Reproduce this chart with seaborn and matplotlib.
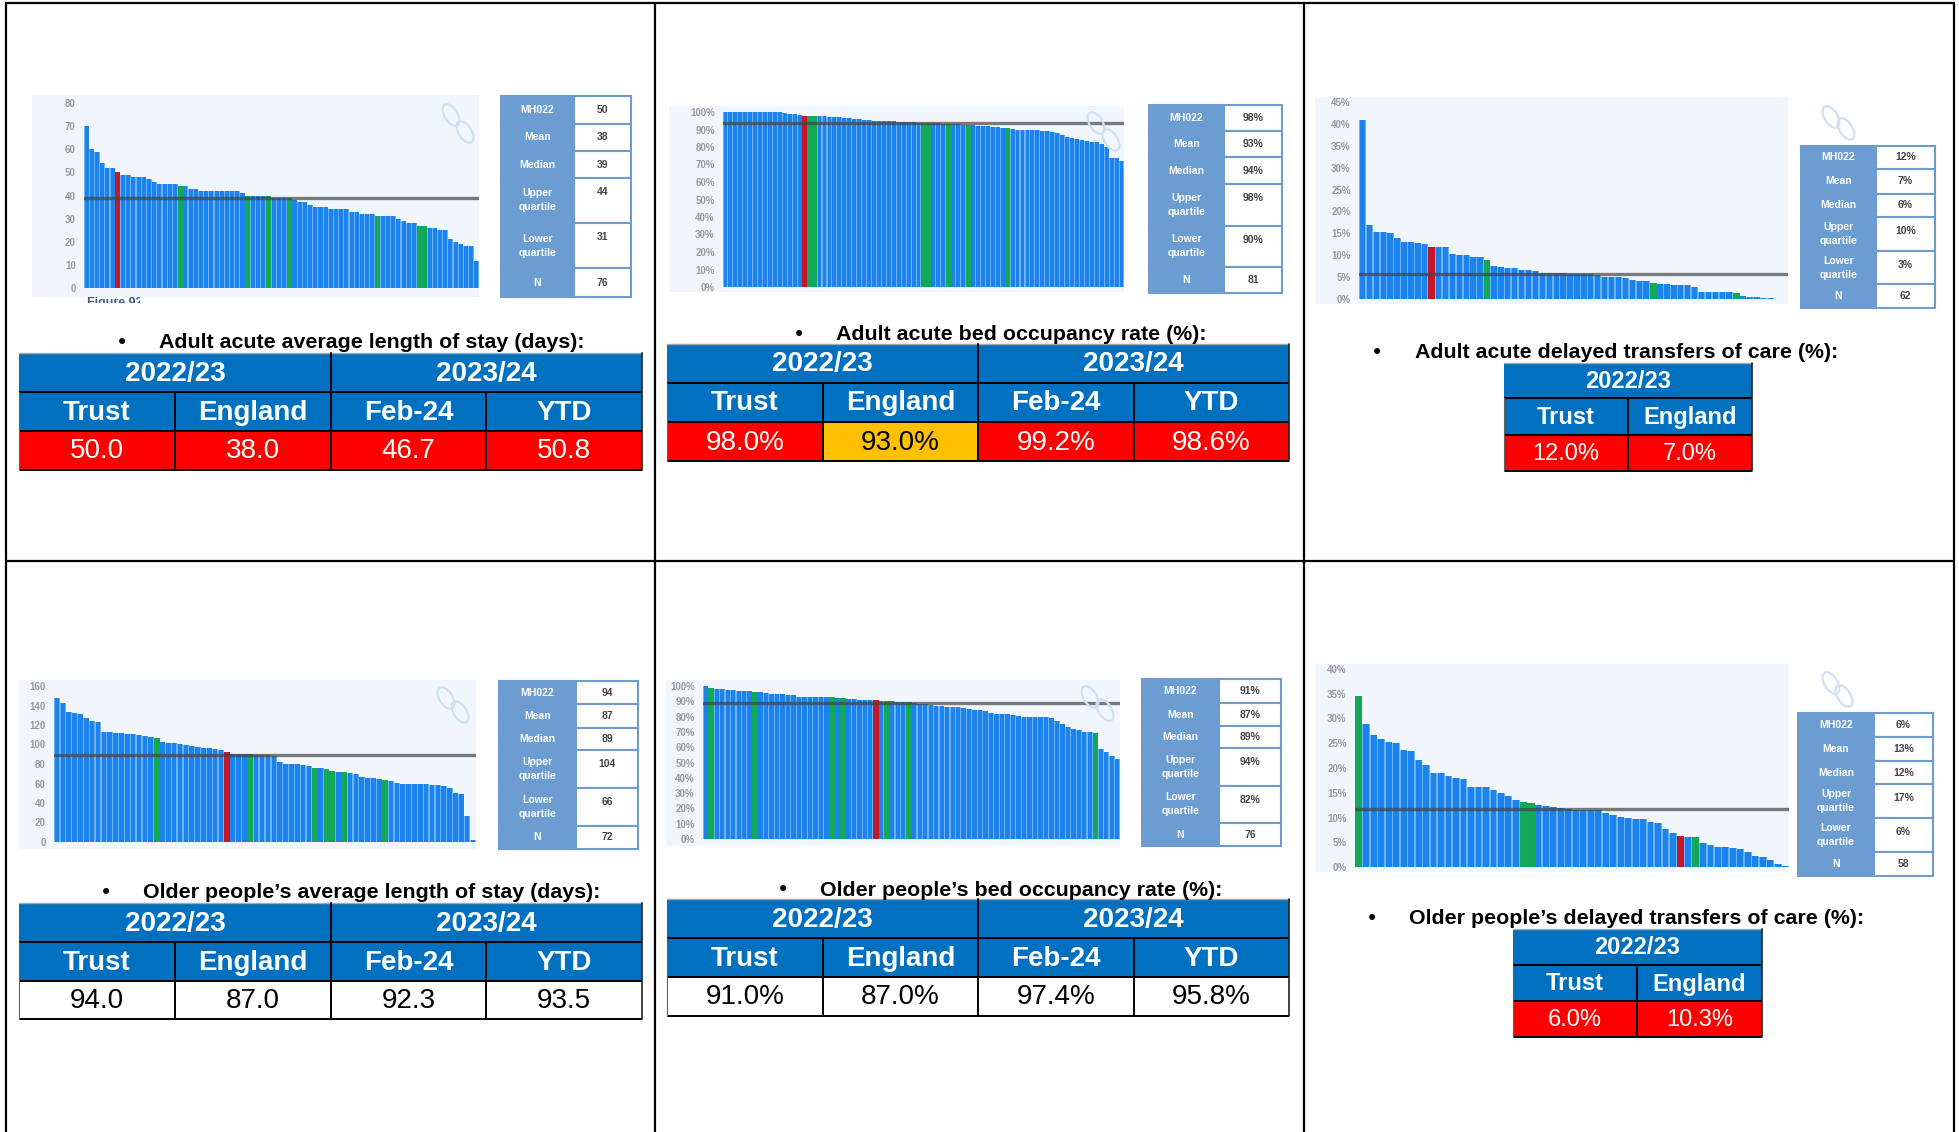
import matplotlib
matplotlib.use("Agg")
import matplotlib.pyplot as plt
from matplotlib.patches import Rectangle, Ellipse
import numpy as np
import pandas as pd
import seaborn as sns

W, H = 1959, 1132

# values
adult_los = [70, 60, 59, 54, 52, 52, 50, 49, 49, 48,
             48, 48, 47, 46, 45, 45, 45, 45, 44, 44,
             43, 43, 42, 42, 42, 42, 42, 42, 42, 42,
             41, 40, 40, 40, 40, 40, 39, 39, 39, 39,
             38, 37, 37, 36, 35, 35, 35, 34, 34, 34,
             34, 33, 33, 32, 32, 32, 31, 31, 31, 31,
             30, 29, 28, 28, 27, 27, 26, 26, 25, 25,
             21, 20, 19, 18, 18, 11.5]
adult_occ = [100, 100, 100, 100, 100, 100, 100, 100, 100, 100,
             100, 100, 99.5, 99, 99, 98.5, 98, 98, 98, 97.5,
             97.5, 97, 97, 97, 96.5, 96.5, 96, 96, 95.5, 95.5,
             95, 95, 95, 95, 95, 94.5, 94.5, 94.5, 94.5, 94,
             94, 94, 93.5, 93.5, 93, 93, 93, 93, 92.5, 92.5,
             92.5, 92, 92, 92, 91.5, 91.5, 91, 91, 90.5, 90,
             90, 90, 89.5, 89.5, 89, 89, 88.5, 88, 87, 86,
             85, 84.5, 84, 83.5, 83, 83, 82, 80, 74, 74,
             72]
adult_dtoc = [41, 17, 15.2, 15.2, 15, 14, 13, 13, 12.8, 12.5,
              11.8, 11.8, 11.8, 10.3, 10.1, 10, 9.7, 9.6, 9, 7.6,
              7.3, 7, 7, 6.7, 6.6, 6.5, 6, 6, 5.9, 5.9,
              5.8, 5.8, 5.8, 5.6, 5.4, 5, 5, 5, 4.8, 4.3,
              4.2, 4, 3.7, 3.4, 3.4, 3.3, 3.2, 3.2, 2.7, 1.7,
              1.6, 1.6, 1.5, 1.5, 1.4, 0.7, 0.5, 0.4, 0.3, 0.2,
              0.1, 0.1]
older_los = [148, 143, 133, 132, 131, 127, 124, 123, 113, 113,
             112, 112, 111, 111, 110, 109, 108, 107, 103, 102,
             102, 101, 99, 98, 97, 96, 96, 95, 94, 92,
             90, 90, 90, 90, 89, 89, 89, 88, 82, 80,
             80, 80, 79, 78, 76, 76, 75, 73, 72, 72,
             71, 70, 67, 66, 66, 65, 64, 63, 61, 60,
             60, 59, 59, 59, 58, 58, 57, 55, 50, 49,
             27, 2]
older_occ = [100, 99, 98, 98, 97.5, 97.5, 97, 97, 96.5, 96,
             96, 95.5, 95, 95, 94.5, 94, 94, 93, 93, 93,
             93, 93, 92.5, 92.5, 92, 92, 91.5, 91.5, 91, 91,
             91, 91, 90, 90, 90, 89.5, 89.5, 89.5, 89, 88,
             88, 87.5, 87, 87, 86, 86, 86, 85.5, 85, 84,
             84, 83.5, 82.5, 82, 82, 81.5, 81, 80.5, 80, 80,
             80, 80, 79.5, 79, 77, 75, 73.5, 72, 71, 70,
             70, 69, 59, 57, 54, 52]
older_dtoc = [34.5, 28.8, 26.7, 25.8, 25.2, 25, 23.7, 23.4, 21.6, 20.6,
              19, 19, 18.4, 18, 17.8, 16.2, 16.2, 16.2, 15.5, 15,
              14.4, 13.5, 13.2, 13, 12.6, 12.4, 12.2, 12, 11.7, 11.6,
              11.6, 11.5, 11.5, 11, 10.6, 10.2, 9.8, 9.6, 9.6, 9,
              8.8, 7.7, 6.8, 6.2, 6, 6, 4.9, 4.5, 4, 4,
              3.9, 3.6, 3, 2.3, 2, 1.4, 0.7, 0.3]

# highlighted organisations in each chart
adult_los_trust, adult_los_peers = [6], [18, 31, 35, 39, 56, 64, 65]
adult_occ_trust, adult_occ_peers = [16], [17, 18, 40, 41, 45, 49, 57]
adult_dtoc_trust, adult_dtoc_peers = [10], [18, 42, 54]
older_los_trust, older_los_peers = [29], [17, 33, 44, 46, 47, 49, 56]
older_occ_trust, older_occ_peers = [31], [1, 9, 23, 25, 33, 37, 71]
older_dtoc_trust, older_dtoc_peers = [43], [0, 22, 23, 45]

stat_labels = ["MH022", "Mean", "Median", "Upper\nquartile", "Lower\nquartile", "N"]
adult_los_stats = ["50", "38", "39", "44", "31", "76"]
adult_occ_stats = ["98%", "93%", "94%", "98%", "90%", "81"]
adult_dtoc_stats = ["12%", "7%", "6%", "10%", "3%", "62"]
older_los_stats = ["94", "87", "89", "104", "66", "72"]
older_occ_stats = ["91%", "87%", "89%", "94%", "82%", "76"]
older_dtoc_stats = ["6%", "13%", "12%", "17%", "6%", "58"]

medians = [39, 94, 5.8, 89, 89, 11.7]

headings = ["Adult acute average length of stay (days):",
            "Adult acute bed occupancy rate (%):",
            "Adult acute delayed transfers of care (%):",
            "Older people\u2019s average length of stay (days):",
            "Older people\u2019s bed occupancy rate (%):",
            "Older people\u2019s delayed transfers of care (%):"]

years_long = ["2022/23", "2023/24"]
years_short = ["2022/23"]
cols_long = ["Trust", "England", "Feb-24", "YTD"]
cols_short = ["Trust", "England"]
adult_los_vals = ["50.0", "38.0", "46.7", "50.8"]
adult_occ_vals = ["98.0%", "93.0%", "99.2%", "98.6%"]
adult_dtoc_vals = ["12.0%", "7.0%"]
older_los_vals = ["94.0", "87.0", "92.3", "93.5"]
older_occ_vals = ["91.0%", "87.0%", "97.4%", "95.8%"]
older_dtoc_vals = ["6.0%", "10.3%"]
adult_los_rag = ["red", "red", "red", "red"]
adult_occ_rag = ["red", "amber", "red", "red"]
adult_dtoc_rag = ["red", "red"]
older_los_rag = ["none", "none", "none", "none"]
older_occ_rag = ["none", "none", "none", "none"]
older_dtoc_rag = ["red", "red"]

BAR_BLUE = "#1c82ee"
BAR_GAP = "#6cb4f8"
BAR_GREEN = "#12a85a"
BAR_RED = "#c4182a"
BG_BLUE = "#f1f6fd"
STAT_BLUE = "#6c9dd2"
HEAD_BLUE = "#0070c0"
RAG = {"red": ("#ff0000", "white"), "amber": ("#ffc000", "black"), "none": ("white", "black")}

sns.set_theme(style="white")
plt.rcParams["font.family"] = ["Liberation Sans", "DejaVu Sans"]

fig = plt.figure(figsize=(W / 100, H / 100), dpi=100, facecolor="white")


def px_axes(x0, y0, x1, y1, zorder):
    """Axes placed by pixel box, y measured from the top of the figure."""
    return fig.add_axes([x0 / W, 1 - y1 / H, (x1 - x0) / W, (y1 - y0) / H], zorder=zorder)


back = px_axes(0, 0, W, H, 0)
over = px_axes(0, 0, W, H, 5)
for a in (back, over):
    a.set_xlim(0, W)
    a.set_ylim(H, 0)
    a.axis("off")
    a.patch.set_alpha(0)


def draw_bars(box, values, trust, peers, median, ymax, step, fmt):
    ax = px_axes(*box, 2)
    ax.patch.set_alpha(0)
    df = pd.DataFrame({"org": range(len(values)), "value": values, "kind": "peer"})
    df.loc[df["org"].isin(peers), "kind"] = "mh_peer"
    df.loc[df["org"].isin(trust), "kind"] = "trust"
    # the soft gaps between the bars of the scanned chart
    sns.barplot(data=df, x="org", y="value", hue="kind", dodge=False, width=1.0, legend=False, ax=ax,
                saturation=1, linewidth=0,
                palette={"peer": BAR_GAP, "mh_peer": BAR_GREEN, "trust": BAR_RED})
    sns.barplot(data=df, x="org", y="value", hue="kind", dodge=False, width=0.78, legend=False, ax=ax,
                saturation=1, linewidth=0,
                palette={"peer": BAR_BLUE, "mh_peer": BAR_GREEN, "trust": BAR_RED})
    ax.axhline(median, color="#444444", lw=2.4, alpha=0.7, zorder=4)
    ax.set_xlim(-0.5, len(values) - 0.5)
    ax.set_ylim(0, ymax)
    ax.set_yticks(np.arange(0, ymax + 1, step))
    ax.set_yticklabels([fmt.format(t) for t in np.arange(0, ymax + 1, step)], color="#9a9a9a",
                       fontsize=7, fontweight="bold")
    ax.tick_params(axis="y", length=0, pad=6)
    ax.set_xticks([])
    ax.set_xlabel("")
    ax.set_ylabel("")
    sns.despine(ax=ax, left=True, bottom=True)


def draw_stats(xs, ys, values):
    for i, (label, val) in enumerate(zip(stat_labels, values)):
        y0, y1 = ys[i], ys[i + 1]
        back.add_patch(Rectangle((xs[0], y0), xs[1] - xs[0], y1 - y0, fc=STAT_BLUE, ec="#6f9bcf", lw=1.5))
        back.add_patch(Rectangle((xs[1], y0), xs[2] - xs[1], y1 - y0, fc="white", ec="#6f9bcf", lw=1.5))
        back.text((xs[0] + xs[1]) / 2, (y0 + y1) / 2, label, color="white", fontsize=7.5, fontweight="bold",
                  ha="center", va="center", linespacing=1.5)
        # wrapped rows keep their number on the first line
        yv = (y0 + y1) / 2 if "\n" not in label else y0 + 14
        back.text((xs[1] + xs[2]) / 2, yv, val, color="#444444", fontsize=7.5, fontweight="bold",
                  ha="center", va="center")


def draw_table(xs, ys, years, cols, vals, rag, fs):
    left, right = xs[0], xs[-1]
    over.add_patch(Rectangle((left, ys[0]), right - left, ys[2] - ys[0], fc=HEAD_BLUE, ec="none"))
    n_span = (len(xs) - 1) // len(years)
    for i, yr in enumerate(years):
        xa, xb = xs[i * n_span], xs[(i + 1) * n_span]
        over.text((xa + xb) / 2, (ys[0] + ys[1]) / 2 + 1, yr, color="white", fontsize=fs, fontweight="bold",
                  ha="center", va="center")
    for i, (c, v, r) in enumerate(zip(cols, vals, rag)):
        xa, xb = xs[i], xs[i + 1]
        fill, ink = RAG[r]
        over.add_patch(Rectangle((xa, ys[2]), xb - xa, ys[3] - ys[2], fc=fill, ec="none"))
        over.text((xa + xb) / 2, (ys[1] + ys[2]) / 2 + 1, c, color="white", fontsize=fs, fontweight="bold",
                  ha="center", va="center")
        over.text((xa + xb) / 2, (ys[2] + ys[3]) / 2 + 1, v, color=ink, fontsize=fs, ha="center", va="center")
    # rules
    for y in ys[1:]:
        over.plot([left, right], [y, y], color="black", lw=1.4, solid_capstyle="butt")
    over.plot([left, right], [ys[0], ys[0]], color="#a8a8a8", lw=1)
    for x in xs[1:-1]:
        over.plot([x, x], [ys[1], ys[3]], color="black", lw=1.4)
    for x in xs[n_span:-1:n_span]:
        over.plot([x, x], [ys[0], ys[1]], color="black", lw=1.4)
    over.plot([left, left], [ys[1], ys[3]], color="#606060", lw=0.8)
    over.plot([right, right], [ys[0], ys[3]], color="#202020", lw=1.2)


def draw_chain(p, q):
    for c in (p, q):
        over.add_patch(Ellipse(c, 13, 24, angle=-32, fc="none", ec="#cfe0f5", lw=1.6))


# bar charts: box is left, top, right, baseline in pixels
draw_bars((84, 103, 479, 288), adult_los, adult_los_trust, adult_los_peers, medians[0], 80, 10, "{:.0f}")
draw_bars((723, 112, 1124, 287), adult_occ, adult_occ_trust, adult_occ_peers, medians[1], 100, 10, "{:.0f}%")
draw_bars((1359, 102, 1788, 299), adult_dtoc, adult_dtoc_trust, adult_dtoc_peers, medians[2], 45, 5, "{:.0f}%")
draw_bars((54, 686, 476, 842), older_los, older_los_trust, older_los_peers, medians[3], 160, 20, "{:.0f}")
draw_bars((703, 686, 1120, 839), older_occ, older_occ_trust, older_occ_peers, medians[4], 100, 10, "{:.0f}%")
draw_bars((1355, 669, 1789, 867), older_dtoc, older_dtoc_trust, older_dtoc_peers, medians[5], 40, 5, "{:.0f}%")

# pale chart backgrounds
for x0, y0, x1, y1 in [(32, 95, 479, 297), (669, 106, 1124, 292), (1315, 97, 1788, 304),
                       (18, 680, 476, 849), (666, 680, 1120, 846), (1315, 664, 1789, 872)]:
    back.add_patch(Rectangle((x0, y0), x1 - x0, y1 - y0, fc=BG_BLUE, ec="none"))

# caption of the scanned chart, cut off by the crop
cap = back.text(87, 297, "Figure 92", fontsize=9, fontweight="bold", color="#3d5f8a", ha="left", va="top")
cap.set_clip_on(True)
cap.set_clip_path(Rectangle((80, 297), 60, 6, transform=back.transData))

draw_chain((451, 115), (465, 132))
draw_chain((1096, 123), (1111, 140))
draw_chain((1831, 117), (1846, 129))
draw_chain((446, 698), (460, 712))
draw_chain((1090, 697), (1105, 710))
draw_chain((1831, 683), (1844, 696))

# small benchmark tables
draw_stats((501, 574, 631), (96, 124, 151, 178, 223, 268, 297), adult_los_stats)
draw_stats((1149, 1224, 1282), (105, 131, 157, 184, 226, 267, 293), adult_occ_stats)
draw_stats((1801, 1876, 1935), (146, 169, 194, 217, 251, 284, 308), adult_dtoc_stats)
draw_stats((499, 576, 638), (681, 704, 728, 750, 788, 826, 849), older_los_stats)
draw_stats((1142, 1219, 1281), (679, 703, 726, 748, 786, 823, 846), older_occ_stats)
draw_stats((1798, 1874, 1933), (713, 737, 761, 784, 818, 852, 876), older_dtoc_stats)

# headings with their bullets
for (bx, tx, y), head in zip([(122, 159, 343), (799, 836, 335), (1377, 1415, 353),
                              (106, 143, 893), (783, 820, 890), (1372, 1409, 919)], headings):
    over.text(bx, y, "\u2022", fontsize=15, color="black", ha="center", va="center", family="DejaVu Sans")
    over.text(tx, y, head, fontsize=15.4, fontweight="bold", color="black", ha="left", va="center")

# RAG tables
xs_left = (19, 175, 331, 486, 642)
xs_mid = (667, 823, 978, 1134, 1289)
draw_table(xs_left, (353, 392, 431, 470), years_long, cols_long, adult_los_vals, adult_los_rag, 20)
draw_table(xs_mid, (344, 383, 422, 461), years_long, cols_long, adult_occ_vals, adult_occ_rag, 20)
draw_table((1504, 1628, 1752), (363, 398, 435, 471), years_short, cols_short, adult_dtoc_vals, adult_dtoc_rag, 17)
draw_table(xs_left, (903, 942, 981, 1019), years_long, cols_long, older_los_vals, older_los_rag, 20)
draw_table(xs_mid, (899, 938, 977, 1016), years_long, cols_long, older_occ_vals, older_occ_rag, 20)
draw_table((1513, 1637, 1762), (929, 965, 1001, 1037), years_short, cols_short, older_dtoc_vals, older_dtoc_rag, 17)

# outer document grid
for x in (6, 655, 1304, 1954):
    over.plot([x, x], [3, H], color="black", lw=1.6)
for y in (3, 561):
    over.plot([6, 1954], [y, y], color="black", lw=1.6)

fig.savefig("out.png", dpi=100)
